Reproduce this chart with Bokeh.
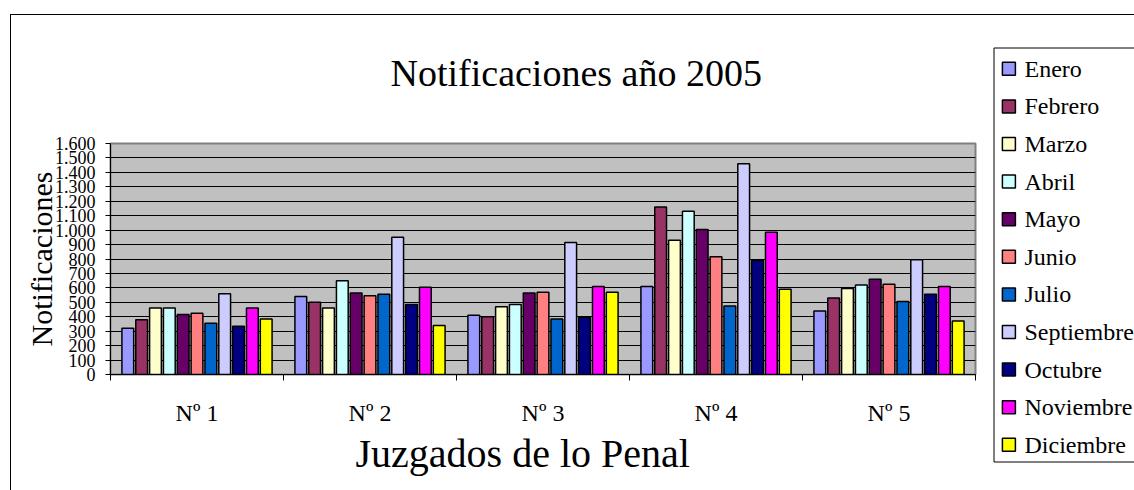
from bokeh.plotting import figure
from bokeh.layouts import row
from bokeh.models import (ColumnDataSource, FixedTicker, Title, Range1d, InlineStyleSheet, Label)
from bokeh.embed import file_html
from bokeh.resources import INLINE

# ---- data ----
juzgados = ["Nº 1", "Nº 2", "Nº 3", "Nº 4", "Nº 5"]
meses = ["Enero", "Febrero", "Marzo", "Abril", "Mayo", "Junio", "Julio",
         "Septiembre", "Octubre", "Noviembre", "Diciembre"]
enero = [320, 540, 410, 610, 440]
febrero = [380, 500, 400, 1160, 530]
marzo = [460, 460, 470, 930, 595]
abril = [460, 650, 485, 1130, 620]
mayo = [415, 565, 565, 1005, 660]
junio = [425, 545, 570, 815, 625]
julio = [355, 555, 385, 475, 505]
septiembre = [560, 950, 915, 1460, 795]
octubre = [335, 485, 395, 790, 555]
noviembre = [460, 605, 610, 985, 610]
diciembre = [385, 340, 570, 590, 370]
series = [enero, febrero, marzo, abril, mayo, junio, julio,
          septiembre, octubre, noviembre, diciembre]
colores = ["#9999FF", "#993366", "#FFFFCC", "#CCFFFF", "#660066", "#FF8080",
           "#0066CC", "#CCCCFF", "#000080", "#FF00FF", "#FFFF00"]
y_ticks = list(range(0, 1601, 100))

FONT = "Liberation Serif"
MAIN_W = 990
LEG_W = 1134 - MAIN_W
H = 490

p = figure(width=MAIN_W, height=H, output_backend="svg", toolbar_location=None,
           x_range=Range1d(0, len(juzgados)), y_range=Range1d(0, 1600),
           frame_width=865, frame_height=231,
           min_border_left=110, min_border_top=143, min_border_right=MAIN_W - 975,
           min_border_bottom=116)
p.frame_align = False

p.background_fill_color = "#C0C0C0"
p.border_fill_color = "white"
p.outline_line_color = "#808080"
p.outline_line_width = 2

# outer chart border (left and top edges visible)
p.stylesheets = [InlineStyleSheet(css=(
    ":host::after{content:'';position:absolute;left:10px;top:14px;right:0;bottom:0;"
    "border-left:1px solid #000;border-top:1px solid #000;pointer-events:none;}"))]

# title
p.title.text = "Notificaciones año 2005"
p.title.align = "left"
p.title.offset = 280
p.title.text_font = FONT
p.title.text_font_size = "38px"
p.title.text_font_style = "normal"
p.title.text_color = "black"
p.title.standoff = 99

# bars
slot = 0.08
n = len(meses)
for j, (name, vals, col) in enumerate(zip(meses, series, colores)):
    xs = [i + 0.5 + (j - (n - 1) / 2) * slot for i in range(len(juzgados))]
    src = ColumnDataSource(dict(x=xs, top=vals))
    p.vbar(x="x", top="top", width=0.068, source=src, fill_color=col,
           line_color="black", line_width=1.5)

# grid
p.xgrid.visible = False
p.ygrid.grid_line_color = "black"
p.ygrid.grid_line_width = 1
p.ygrid.ticker = FixedTicker(ticks=y_ticks)

# y axis
ya = p.yaxis[0]
ya.ticker = FixedTicker(ticks=y_ticks)
ya.major_label_overrides = {v: (f"{v:,}".replace(",", ".")) for v in y_ticks}
ya.axis_label = "Notificaciones"
ya.axis_label_text_font = FONT
ya.axis_label_text_font_size = "30px"
ya.axis_label_text_font_style = "normal"
ya.axis_label_text_color = "black"
ya.axis_label_standoff = -6
ya.major_label_text_font = FONT
ya.major_label_text_font_size = "18px"
ya.major_label_text_color = "black"
ya.major_label_standoff = 10
ya.major_tick_out = 5
ya.major_tick_in = 0
ya.minor_tick_out = 0
ya.minor_tick_in = 0
ya.axis_line_color = "black"
ya.major_tick_line_color = "black"

# x axis
xa = p.xaxis[0]
xa.ticker = FixedTicker(ticks=[i + 0.5 for i in range(len(juzgados))],
                        minor_ticks=list(range(len(juzgados) + 1)))
xa.major_label_overrides = {i + 0.5: lab for i, lab in enumerate(juzgados)}
xa.major_label_text_font = FONT
xa.major_label_text_font_size = "24px"
xa.major_label_text_color = "black"
xa.major_label_standoff = 19
xa.major_tick_out = 0
xa.major_tick_in = 0
xa.minor_tick_out = 6
xa.minor_tick_in = 0
xa.minor_tick_line_color = "black"
xa.axis_line_color = "black"

xt = Title(text="Juzgados de lo Penal", align="left", offset=245,
           text_font=FONT, text_font_size="40px", text_font_style="normal",
           text_color="black", standoff=0)
p.add_layout(xt, "below")

# ---- legend panel (separate figure, pixel coordinates, y downward) ----
lg = figure(width=LEG_W, height=H, output_backend="svg", toolbar_location=None,
            x_range=Range1d(0, LEG_W), y_range=Range1d(H, 0),
            frame_width=LEG_W, frame_height=H, min_border=0,
            x_axis_type=None, y_axis_type=None, title_location=None)
lg.frame_align = False
lg.xgrid.visible = False
lg.ygrid.visible = False
lg.outline_line_color = None
lg.background_fill_color = "white"
lg.border_fill_color = "white"
lg.stylesheets = [InlineStyleSheet(css=(
    ":host::after{content:'';position:absolute;left:0;top:14px;right:0;bottom:0;"
    "border-top:1px solid #000;pointer-events:none;}"))]

box_left, box_top, box_bottom = 3.5, 47.5, 461.5
lg.quad(left=[box_left], right=[LEG_W + 10], top=[box_top], bottom=[box_bottom],
        fill_color="white", line_color="black", line_width=1)

first_center, pitch = 68.3, 37.6
key_cx, key_size, text_x = 18.4, 13, 34
ys = [first_center + k * pitch for k in range(len(meses))]
lsrc = ColumnDataSource(dict(x=[key_cx] * len(meses), y=ys, color=colores))
lg.rect(x="x", y="y", width=key_size, height=key_size, source=lsrc,
        fill_color="color", line_color="black", line_width=1.5)
for name, yy in zip(meses, ys):
    lg.add_layout(Label(x=text_x, y=yy, text=name, text_font=FONT,
                        text_font_size="24px", text_font_style="normal",
                        text_baseline="middle", text_align="left",
                        text_color="black"))

layout = row(p, lg, spacing=0)
open("out.html", "w").write(file_html(layout, INLINE))
